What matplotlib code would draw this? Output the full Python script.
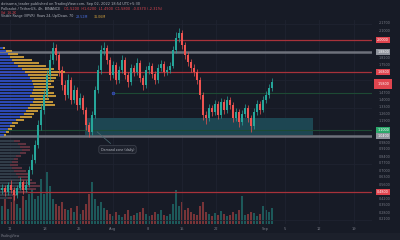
import numpy as np
import matplotlib.pyplot as plt
from matplotlib.patches import Rectangle
from matplotlib.ticker import MultipleLocator, FuncFormatter

# candle data (price units), one candle per slot
close = [0.52, 0.48, 0.55, 0.50, 0.45, 0.52, 0.58, 0.50, 0.55,
         0.70, 0.80, 0.95, 1.15, 1.30, 1.45, 1.65, 1.80, 1.92,
         1.85, 1.70, 1.55, 1.45, 1.60, 1.40, 1.50, 1.35, 1.42,
         1.30, 1.15, 1.08, 1.25, 1.50, 1.70, 1.90, 1.92, 1.80,
         1.65, 1.75, 1.60, 1.70, 1.80, 1.65, 1.58, 1.72, 1.68, 1.77, 1.62,
         1.55, 1.70, 1.74, 1.66, 1.60, 1.72, 1.76, 1.68, 1.70, 1.74,
         1.90, 2.02, 2.07, 1.95, 1.85, 1.78, 1.72, 1.68, 1.60, 1.45, 1.25,
         1.22, 1.32, 1.28, 1.36, 1.25, 1.38, 1.30, 1.40, 1.35, 1.22, 1.28,
         1.18, 1.26, 1.32, 1.22, 1.14, 1.28, 1.36, 1.30, 1.40, 1.45, 1.52, 1.58]
high = [0.56, 0.55, 0.58, 0.60, 0.53, 0.55, 0.63, 0.60, 0.60,
        0.74, 0.86, 1.00, 1.20, 1.36, 1.50, 1.70, 1.86, 1.98,
        1.96, 1.88, 1.74, 1.60, 1.66, 1.63, 1.55, 1.53, 1.47,
        1.45, 1.33, 1.18, 1.29, 1.54, 1.75, 1.95, 1.98, 1.95,
        1.83, 1.79, 1.78, 1.74, 1.85, 1.83, 1.68, 1.76, 1.75, 1.82, 1.80,
        1.65, 1.74, 1.78, 1.77, 1.69, 1.76, 1.80, 1.79, 1.74, 1.78,
        1.94, 2.08, 2.12, 2.10, 1.98, 1.88, 1.81, 1.76, 1.71, 1.63, 1.48,
        1.29, 1.36, 1.35, 1.40, 1.39, 1.42, 1.41, 1.44, 1.43, 1.38, 1.32,
        1.31, 1.30, 1.36, 1.35, 1.25, 1.32, 1.40, 1.39, 1.44, 1.49, 1.56, 1.62]
low = [0.46, 0.44, 0.45, 0.47, 0.40, 0.42, 0.50, 0.46, 0.48,
       0.53, 0.66, 0.77, 0.92, 1.10, 1.26, 1.42, 1.60, 1.76,
       1.80, 1.64, 1.50, 1.40, 1.42, 1.36, 1.37, 1.30, 1.32,
       1.26, 1.10, 1.03, 1.05, 1.22, 1.47, 1.66, 1.85, 1.76,
       1.60, 1.62, 1.56, 1.57, 1.67, 1.61, 1.53, 1.55, 1.64, 1.65, 1.58,
       1.50, 1.52, 1.66, 1.62, 1.56, 1.57, 1.69, 1.64, 1.65, 1.67,
       1.72, 1.87, 1.98, 1.91, 1.81, 1.74, 1.68, 1.64, 1.56, 1.41, 1.20,
       1.16, 1.19, 1.24, 1.25, 1.21, 1.22, 1.26, 1.27, 1.31, 1.18, 1.19,
       1.13, 1.15, 1.23, 1.18, 1.08, 1.11, 1.25, 1.26, 1.28, 1.37, 1.42, 1.49]
first_open = 0.50
volume = [18, 25, 15, 22, 30, 20, 16, 28, 24,
          30, 35, 25, 28, 45, 30, 52, 38, 25,
          20, 18, 22, 15, 14, 16, 12, 18, 10,
          14, 20, 30, 42, 25, 18, 22, 16, 14,
          10, 8, 12, 9, 7, 10, 14, 8, 9, 11, 12,
          16, 10, 8, 9, 12, 10, 14, 9, 8, 10,
          20, 34, 18, 22, 14, 16, 12, 10, 9, 18, 22,
          12, 10, 8, 11, 9, 13, 10, 8, 9, 12, 10,
          14, 28, 9, 10, 12, 11, 8, 10, 18, 14, 12, 16]

# visible range volume profile (upper), rows by price
prof_price = [1.92, 1.89, 1.86, 1.83, 1.80, 1.77, 1.74, 1.71, 1.68, 1.65,
              1.62, 1.59, 1.56, 1.53, 1.50, 1.47, 1.44, 1.41, 1.38, 1.35,
              1.32, 1.29, 1.26, 1.23, 1.20, 1.17, 1.14, 1.11, 1.08, 1.05]
prof_up = [3, 6, 8, 10, 12, 14, 18, 22, 25, 28, 30, 32, 33, 34, 33,
           32, 30, 34, 33, 30, 28, 26, 24, 20, 16, 12, 10, 8, 6, 4]
prof_down = [2, 6, 10, 14, 20, 25, 28, 32, 40, 30, 26, 22, 18, 20, 16,
             22, 26, 15, 20, 25, 14, 12, 10, 12, 8, 6, 5, 4, 3, 2]
# older profile (lower, faded)
prof2_price = [0.99, 0.96, 0.93, 0.90, 0.87, 0.84, 0.81, 0.78, 0.75, 0.72,
               0.69, 0.66, 0.63, 0.60, 0.57, 0.54, 0.51, 0.48, 0.45, 0.42]
prof2_a = [14, 18, 20, 22, 20, 16, 14, 12, 10, 12, 14, 16, 18, 20, 22, 24, 22, 18, 12, 8]
prof2_b = [6, 8, 10, 8, 6, 5, 4, 6, 8, 10, 12, 12, 10, 12, 14, 16, 14, 10, 6, 4]

red_levels = [2.00, 1.68, 0.48]
grey_levels = [1.88, 1.04]
green_levels = [1.47, 1.10]
zone = (1.05, 1.22)
date_pos = [2.7, 14.3, 25.7, 37.0, 48.7, 60.0, 71.3, 87.7, 94.3, 105.7, 117.3]
date_lab = ['11', '18', '25', 'Aug', '8', '15', '22', 'Sep', '5', '12', '19']

BG = '#171b26'
UP = '#26a69a'
DN = '#ef5350'
TXT = '#787b86'

fig = plt.figure(figsize=(4, 2.4), dpi=100, facecolor=BG)
vax = fig.add_axes([0, 16 / 240, 372 / 400, 204 / 240])
ax = vax.twinx()
ax.set_zorder(vax.get_zorder() + 1)
vax.set_facecolor(BG)
ax.patch.set_visible(False)

x = np.arange(len(close))
opens = [first_open] + close[:-1]
xmin, xmax = -2 / 3, 370 / 3

# volume bars
vcol = [UP if c >= o else DN for o, c in zip(opens, close)]
vax.bar(x, volume, width=0.75, color=vcol, alpha=0.45, linewidth=0)
vax.set_ylim(0, 204)
vax.set_xlim(xmin, xmax)
vax.set_yticks([])

# grid
for p in date_pos:
    ax.axvline(p, color='#1f2330', lw=0.6, zorder=0)
for p in np.arange(0.2, 2.2, 0.28):
    ax.axhline(p, color='#1f2330', lw=0.6, zorder=0)

# demand zone box
ax.add_patch(Rectangle((27.7, zone[0]), 76.0, zone[1] - zone[0],
                       facecolor='#1e4b57', edgecolor='none', alpha=0.9, zorder=1))

# levels
for lv in red_levels:
    ax.axhline(lv, color='#a8323a', lw=0.9, zorder=2)
for lv in grey_levels:
    ax.axhline(lv, color='#8a8d96', lw=1.8, alpha=0.75, zorder=2)
ax.plot([37, xmax], [green_levels[0]] * 2, color='#1d4a34', lw=0.8, zorder=2)
ax.plot([37], [green_levels[0]], 'o', ms=2, mfc='#2a3a8a', mec='#3f5fd0', mew=0.4, zorder=3)
ax.axhline(green_levels[1], color='#1d4a34', lw=0.8, zorder=2)

# volume profiles
ax.barh(prof2_price, np.array(prof2_a) / 3, height=0.028, left=xmin,
        color='#36434f', alpha=0.85, linewidth=0, zorder=2)
ax.barh(prof2_price, np.array(prof2_b) / 3, height=0.028,
        left=xmin + np.array(prof2_a) / 3, color='#6a3744', alpha=0.85, linewidth=0, zorder=2)
ax.barh(prof_price, np.array(prof_up) / 3, height=0.026, left=xmin,
        color='#2f4fc4', alpha=0.9, linewidth=0, zorder=2)
ax.barh(prof_price, np.array(prof_down) / 3, height=0.026,
        left=xmin + np.array(prof_up) / 3, color='#d3a23c', alpha=0.9, linewidth=0, zorder=2)

# candles
ccol = [UP if c >= o else DN for o, c in zip(opens, close)]
ax.vlines(x, low, high, colors=ccol, lw=0.5, zorder=4)
body = [max(abs(c - o), 0.008) for o, c in zip(opens, close)]
ax.bar(x, body, bottom=np.minimum(opens, close), width=0.7, color=ccol,
       linewidth=0, zorder=5)

# callout
ax.annotate('Demand zone (daily)', xy=(31, 1.10), xytext=(38.5, 0.905),
            fontsize=2.3, color='#b2b5be', ha='center', va='center',
            bbox=dict(boxstyle='round,pad=0.6', fc='#1e222d', ec='#4a4e5a', lw=0.4),
            arrowprops=dict(arrowstyle='-', color='#4a6a72', lw=0.5), zorder=6)

# price tags on the scale
tags = [(2.00, '#e0454f'), (1.88, '#8f939c'), (1.68, '#e0454f'),
        (1.10, '#2aa86a'), (1.04, '#8f939c'), (0.48, '#e0454f')]
tag_prices = [p for p, c in tags] + [close[-1]]


def price_fmt(v, pos):
    # hide scale labels that sit under a coloured tag
    if any(abs(v - p) < 0.045 for p in tag_prices):
        return ''
    return f'{v:.4f}'


ax.set_xlim(xmin, xmax)
ax.set_ylim(0.16, 2.20)
ax.yaxis.set_major_locator(MultipleLocator(0.07))
ax.yaxis.set_major_formatter(FuncFormatter(price_fmt))
ax.tick_params(axis='y', length=0, labelsize=2.4, labelcolor=TXT, pad=5)
vax.set_xticks(date_pos)
vax.set_xticklabels(date_lab)
vax.tick_params(axis='x', length=0, labelsize=2.6, labelcolor=TXT, pad=2.5)
for a in (ax, vax):
    for s in a.spines.values():
        s.set_visible(False)

for p, c in tags:
    ax.text(1.014, p, f'{p:.4f}', transform=ax.get_yaxis_transform(),
            fontsize=2.4, color='white', va='center', ha='left',
            bbox=dict(boxstyle='square,pad=0.35', fc=c, ec='none'), zorder=7)
ax.text(1.014, close[-1] - 0.02, f'{close[-1]:.4f}', transform=ax.get_yaxis_transform(),
        fontsize=2.4, color='white', va='center', ha='left',
        bbox=dict(boxstyle='square,pad=0.9', fc='#e0454f', ec='none'), zorder=7)

# header
fig.text(0.003, 1 - 4.5 / 240, 'dotsama_trader published on TradingView.com, Sep 02, 2022 18:54 UTC+5:30',
         fontsize=2.5, color='#b2b5be', va='center')
fig.text(0.003, 1 - 9.5 / 240, 'Polkadot / TetherUS, 4h, BINANCE', fontsize=2.5, color='#b2b5be', va='center')
fig.text(0.16, 1 - 9.5 / 240,
         f'O{opens[-1]:.4f}  H{high[-1]:.4f}  L{low[-1]:.4f}  C{close[-1]:.4f}  -0.0370 (-2.31%)',
         fontsize=2.5, color='#e0454f', va='center')
fig.text(0.003, 1 - 12.8 / 240, 'Vol  16.2K', fontsize=2.2, color='#e0454f', va='center')
fig.text(0.003, 1 - 16.5 / 240, 'Visible Range (VPVR)  Rows 24, Up/Down, 70', fontsize=2.3,
         color='#b2b5be', va='center')
fig.text(0.19, 1 - 16.5 / 240, '28.52M', fontsize=2.3, color='#4a6fe0', va='center')
fig.text(0.235, 1 - 16.5 / 240, '31.06M', fontsize=2.3, color='#d3a23c', va='center')

# bottom strip
fig.patches.append(Rectangle((0, 0), 1, 7 / 240, transform=fig.transFigure,
                             facecolor='#1c202b', edgecolor='none'))
fig.text(0.003, 3.5 / 240, 'TradingView', fontsize=2.3, color=TXT, va='center')

fig.savefig('out.png', dpi=100, facecolor=BG)
